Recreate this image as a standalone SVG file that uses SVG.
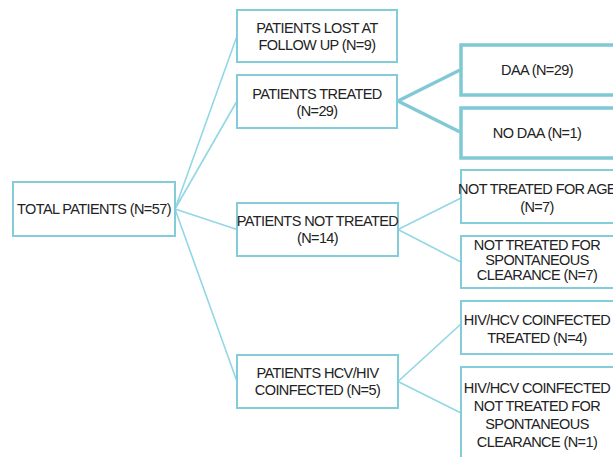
<svg xmlns="http://www.w3.org/2000/svg" width="613" height="457" viewBox="0 0 613 457">
<style>
.box{fill:#fff;stroke:#82cdd9;stroke-width:2}
.bold{stroke:#7fc9d5;stroke-width:3.5}
.ln{stroke:#91d7e4;stroke-width:1.6;fill:none}
.lnb{stroke:#80c9d5;stroke-width:3.5;fill:none}
text{font-family:"Liberation Sans",Arial,sans-serif;font-size:14.5px;letter-spacing:-0.6px;fill:#222;text-anchor:middle}
</style>
<rect width="613" height="457" fill="#fff"/>
<g id="connectors">
<path class="ln" d="M175,209 L237,36 M175,209 L237,101 M175,209 L237,229.5 M175,209 L237,381.5"/>
<path class="lnb" d="M460,70 L398,101 L460,132"/>
<path class="ln" d="M461,198 L398,229.5 L461,262"/>
<path class="ln" d="M461,324 L398,381.5 L461,413"/>
</g>
<g id="total"><rect class="box" x="13" y="182" width="162" height="54"/><text x="94" y="214">TOTAL PATIENTS (N=57)</text></g>
<g id="lost"><rect class="box" x="237" y="10" width="160" height="52"/><text x="317" y="33">PATIENTS LOST AT</text><text x="317" y="50">FOLLOW UP (N=9)</text></g>
<g id="treated"><rect class="box" x="237" y="75" width="160" height="53"/><text x="317" y="98.5">PATIENTS TREATED</text><text x="317" y="115.5">(N=29)</text></g>
<g id="nottreated"><rect class="box" x="237" y="203" width="161" height="53"/><text x="317.5" y="226">PATIENTS NOT TREATED</text><text x="317.5" y="243">(N=14)</text></g>
<g id="coinfected"><rect class="box" x="237" y="355" width="161" height="53"/><text x="317.5" y="378">PATIENTS HCV/HIV</text><text x="317.5" y="395">COINFECTED (N=5)</text></g>
<g id="daa"><rect class="box bold" x="461" y="45" width="160" height="50"/><text x="537" y="75">DAA (N=29)</text></g>
<g id="nodaa"><rect class="box bold" x="461" y="108" width="160" height="50"/><text x="537" y="138">NO DAA (N=1)</text></g>
<g id="age"><rect class="box" x="461" y="170" width="160" height="53"/><text x="537" y="194">NOT TREATED FOR AGE</text><text x="537" y="212">(N=7)</text></g>
<g id="spont"><rect class="box" x="461" y="236" width="160" height="52"/><text x="537" y="250">NOT TREATED FOR</text><text x="537" y="265">SPONTANEOUS</text><text x="537" y="280">CLEARANCE (N=7)</text></g>
<g id="hivtreated"><rect class="box" x="461" y="301" width="160" height="53"/><text x="537" y="325">HIV/HCV COINFECTED</text><text x="537" y="343">TREATED (N=4)</text></g>
<g id="hivnot"><rect class="box" x="461" y="367" width="160" height="100"/><text x="537" y="393">HIV/HCV COINFECTED</text><text x="537" y="411">NOT TREATED FOR</text><text x="537" y="429">SPONTANEOUS</text><text x="537" y="447">CLEARANCE (N=1)</text></g>
</svg>
